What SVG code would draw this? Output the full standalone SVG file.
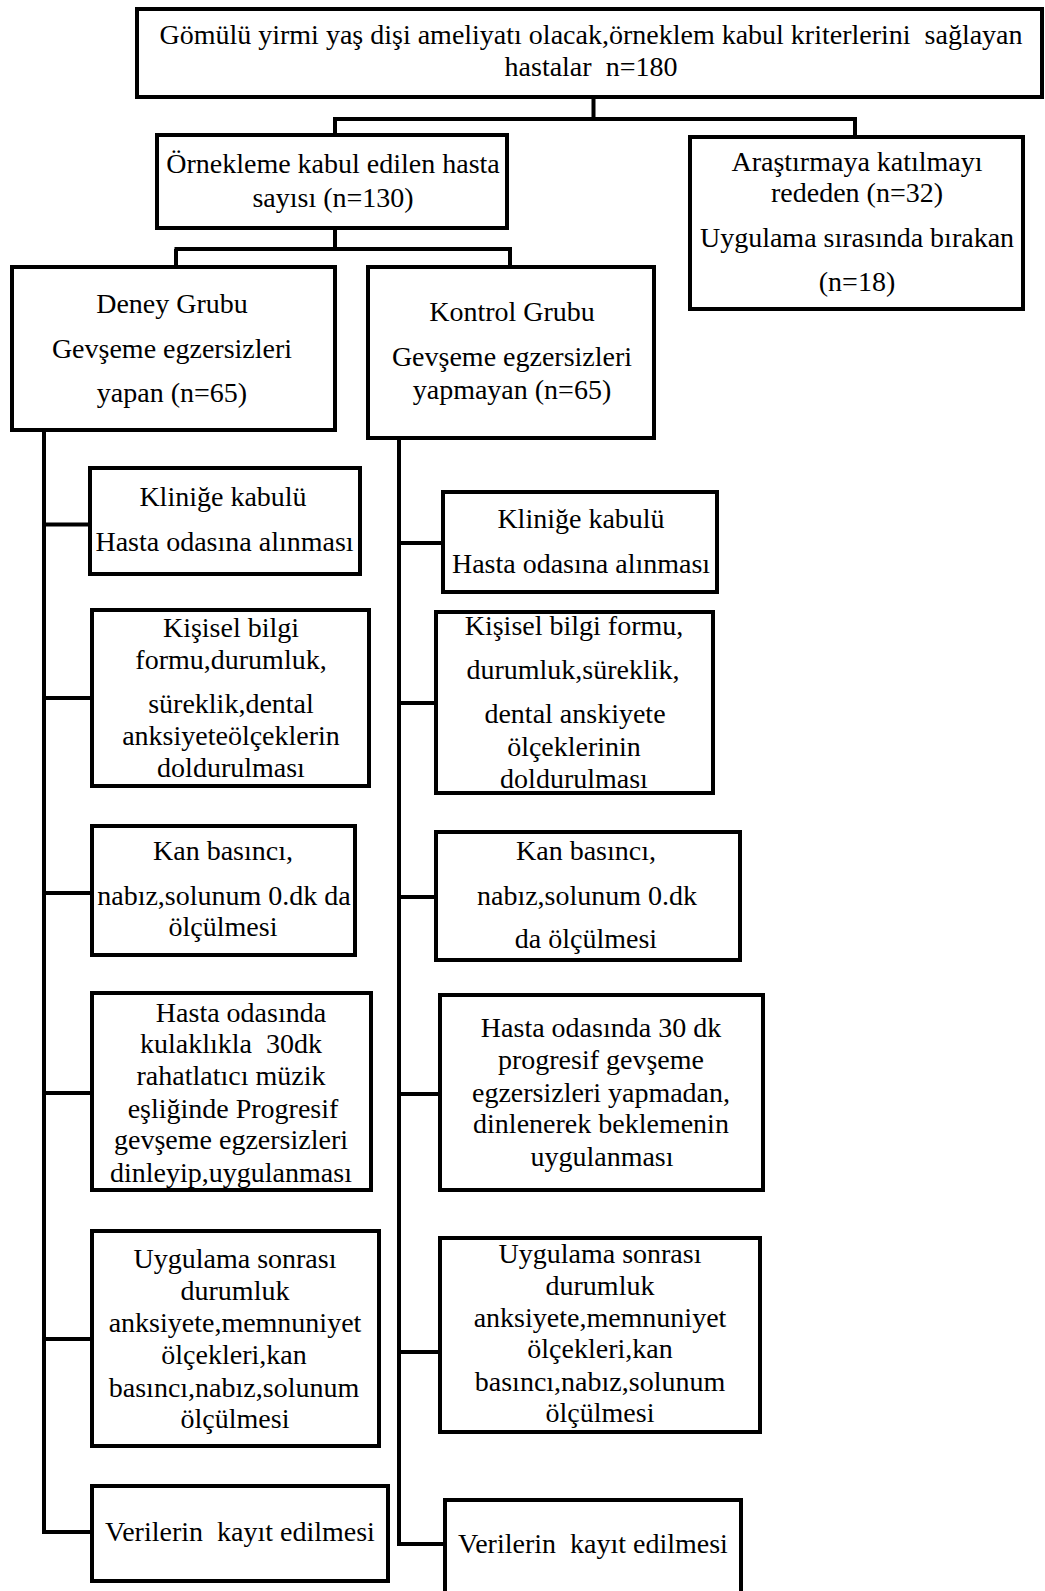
<svg xmlns="http://www.w3.org/2000/svg" width="1045" height="1591" viewBox="0 0 1045 1591">
<style>
.box{fill:#fff;stroke:#000;stroke-width:4}
.t{font-family:"Liberation Serif","Times New Roman",serif;font-size:28px;fill:#000;text-anchor:middle;white-space:pre}
.c{fill:none;stroke:#000;stroke-width:4}
</style>
<rect width="1045" height="1591" fill="#fff"/>
<g id="connectors">
<path class="c" d="M593.5 98 V119 M333 119 H857 M335 119 V135 M855 119 V137"/>
<path class="c" d="M335 228 V249 M174.5 249 H512 M176 249 V267 M510 249 V267"/>
<path class="c" d="M44 430 V1532 H92 M44 524.5 H90 M44 698 H92 M44 893 H92 M44 1093 H92 M44 1339 H92"/>
<path class="c" d="M399 438 V1544 H445 M399 543 H443 M399 703 H436 M399 897 H436 M399 1094 H440 M399 1352 H440"/>
</g>
<g id="n_top"><rect class="box" x="137" y="9" width="905" height="88"/>
<text class="t" x="591" y="43.5" xml:space="preserve">Gömülü yirmi yaş dişi ameliyatı olacak,örneklem kabul kriterlerini  sağlayan</text>
<text class="t" x="591" y="76" xml:space="preserve">hastalar  n=180</text></g>
<g id="n_orneklem"><rect class="box" x="157" y="135" width="350" height="93"/>
<text class="t" x="333" y="173">Örnekleme kabul edilen hasta</text>
<text class="t" x="333" y="207">sayısı (n=130)</text></g>
<g id="n_arastirma"><rect class="box" x="690" y="137" width="333" height="172"/>
<text class="t" x="857" y="171">Araştırmaya katılmayı</text>
<text class="t" x="857" y="202">rededen (n=32)</text>
<text class="t" x="857" y="247">Uygulama sırasında bırakan</text>
<text class="t" x="857" y="291">(n=18)</text></g>
<g id="n_deney"><rect class="box" x="12" y="267" width="323" height="163"/>
<text class="t" x="172" y="313">Deney Grubu</text>
<text class="t" x="172" y="358">Gevşeme egzersizleri</text>
<text class="t" x="172" y="402">yapan (n=65)</text></g>
<g id="n_kontrol"><rect class="box" x="368" y="267" width="286" height="171"/>
<text class="t" x="512" y="321">Kontrol Grubu</text>
<text class="t" x="512" y="366">Gevşeme egzersizleri</text>
<text class="t" x="512" y="399">yapmayan (n=65)</text></g>
<g id="n_l1"><rect class="box" x="90" y="468" width="270" height="106"/>
<text class="t" x="223" y="506">Kliniğe kabulü</text>
<text class="t" x="224.5" y="551">Hasta odasına alınması</text></g>
<g id="n_l2"><rect class="box" x="92" y="610" width="277" height="176"/>
<text class="t" x="231" y="637">Kişisel bilgi</text>
<text class="t" x="231" y="669">formu,durumluk,</text>
<text class="t" x="231" y="713">süreklik,dental</text>
<text class="t" x="231" y="745">anksiyeteölçeklerin</text>
<text class="t" x="231" y="777">doldurulması</text></g>
<g id="n_l3"><rect class="box" x="92" y="826" width="263" height="129"/>
<text class="t" x="223" y="860">Kan basıncı,</text>
<text class="t" x="224" y="905">nabız,solunum 0.dk da</text>
<text class="t" x="223" y="936">ölçülmesi</text></g>
<g id="n_l4"><rect class="box" x="92" y="993" width="279" height="197"/>
<text class="t" x="241" y="1022">Hasta odasında</text>
<text class="t" x="231" y="1053" xml:space="preserve">kulaklıkla  30dk</text>
<text class="t" x="231" y="1085">rahatlatıcı müzik</text>
<text class="t" x="233" y="1118">eşliğinde Progresif</text>
<text class="t" x="231" y="1149">gevşeme egzersizleri</text>
<text class="t" x="231" y="1182">dinleyip,uygulanması</text></g>
<g id="n_l5"><rect class="box" x="92" y="1231" width="287" height="215"/>
<text class="t" x="235" y="1268">Uygulama sonrası</text>
<text class="t" x="235" y="1300">durumluk</text>
<text class="t" x="235" y="1332">anksiyete,memnuniyet</text>
<text class="t" x="234" y="1364">ölçekleri,kan</text>
<text class="t" x="234" y="1397">basıncı,nabız,solunum</text>
<text class="t" x="235" y="1428">ölçülmesi</text></g>
<g id="n_l6"><rect class="box" x="92" y="1486" width="296" height="95"/>
<text class="t" x="240" y="1541" xml:space="preserve">Verilerin  kayıt edilmesi</text></g>
<g id="n_r1"><rect class="box" x="443" y="492" width="274" height="100"/>
<text class="t" x="581" y="528">Kliniğe kabulü</text>
<text class="t" x="581" y="573">Hasta odasına alınması</text></g>
<g id="n_r2"><rect class="box" x="436" y="612" width="277" height="181"/>
<text class="t" x="574" y="635">Kişisel bilgi formu,</text>
<text class="t" x="573" y="679">durumluk,süreklik,</text>
<text class="t" x="575" y="723">dental anskiyete</text>
<text class="t" x="574" y="756">ölçeklerinin</text>
<text class="t" x="574" y="788">doldurulması</text></g>
<g id="n_r3"><rect class="box" x="436" y="832" width="304" height="128"/>
<text class="t" x="586" y="860">Kan basıncı,</text>
<text class="t" x="587" y="905">nabız,solunum 0.dk</text>
<text class="t" x="586" y="948">da ölçülmesi</text></g>
<g id="n_r4"><rect class="box" x="440" y="995" width="323" height="195"/>
<text class="t" x="601" y="1037">Hasta odasında 30 dk</text>
<text class="t" x="601" y="1069">progresif gevşeme</text>
<text class="t" x="601" y="1102">egzersizleri yapmadan,</text>
<text class="t" x="601" y="1133">dinlenerek beklemenin</text>
<text class="t" x="602" y="1166">uygulanması</text></g>
<g id="n_r5"><rect class="box" x="440" y="1238" width="320" height="194"/>
<text class="t" x="600" y="1263">Uygulama sonrası</text>
<text class="t" x="600" y="1295">durumluk</text>
<text class="t" x="600" y="1327">anksiyete,memnuniyet</text>
<text class="t" x="600" y="1358">ölçekleri,kan</text>
<text class="t" x="600" y="1391">basıncı,nabız,solunum</text>
<text class="t" x="600" y="1422">ölçülmesi</text></g>
<g id="n_r6"><rect class="box" x="445" y="1500" width="296" height="95"/>
<text class="t" x="593" y="1553" xml:space="preserve">Verilerin  kayıt edilmesi</text></g>
</svg>
